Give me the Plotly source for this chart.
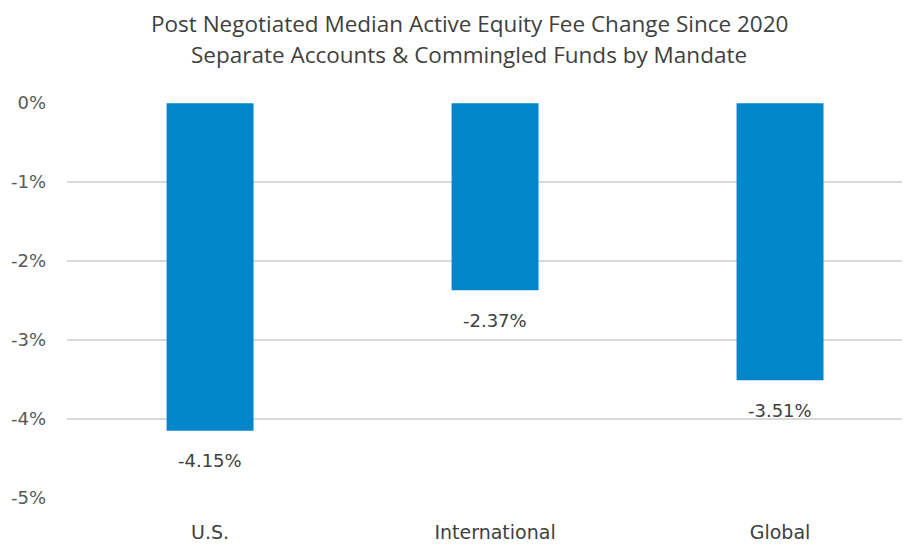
import plotly.graph_objects as go

categories = ["U.S.", "International", "Global"]
fee_change = [-4.15, -2.37, -3.51]
label_text = ["-4.15%", "-2.37%", "-3.51%"]
tick_vals = [0, -1, -2, -3, -4, -5]
tick_text = ["0%", "-1%", "-2%", "-3%", "-4%", "-5%"]
title_lines = ["Post Negotiated Median Active Equity Fee Change Since 2020",
               "Separate Accounts & Commingled Funds by Mandate"]

BAR = "#0086C9"
LABEL_FONT = "'DejaVu Sans', 'Liberation Sans', sans-serif"
TITLE_FONT = "'Open Sans', Roboto, sans-serif"

# page body has an 8px margin; figure coordinates are offset accordingly
W, H = 902, 537
L, R, T, B = 59, 0, 95, 47
plot_w = W - L - R
plot_h = H - T - B

fig = go.Figure()
fig.add_trace(go.Bar(x=list(range(len(categories))), y=fee_change, marker_color=BAR,
                     marker_line_width=0, width=0.305, hoverinfo="skip"))

for i, (v, t) in enumerate(zip(fee_change, label_text)):
    fig.add_annotation(x=i, y=v, text=t, showarrow=False, yshift=-30,
                       font=dict(family=LABEL_FONT, size=18, color="#404040"))

for line, ypx in zip(title_lines, [15.5, 46]):
    fig.add_annotation(xref="paper", yref="paper",
                       x=(461 - L) / plot_w,
                       y=1 + (T - ypx) / plot_h,
                       text=line, showarrow=False, xanchor="center", yanchor="middle",
                       font=dict(family=TITLE_FONT, size=22.5, color="#3F3F3F"))

fig.update_layout(
    width=W, height=H,
    margin=dict(l=L, r=R, t=T, b=B),
    paper_bgcolor="white", plot_bgcolor="white",
    showlegend=False,
    xaxis=dict(range=[-0.502, 2.456], tickvals=list(range(len(categories))), ticktext=categories,
               showgrid=False, zeroline=False, showline=False, ticks="",
               tickfont=dict(family=LABEL_FONT, size=19, color="#404040"), ticklabelstandoff=21),
    yaxis=dict(range=[-5.002, 0.002], tickvals=tick_vals, ticktext=tick_text,
               showgrid=True, gridcolor="#D9D9D9", gridwidth=1.5, zeroline=False, showline=False,
               ticks="", tickfont=dict(family=LABEL_FONT, size=18, color="#595959"), ticklabelstandoff=20),
)

fig.write_html("out.html")
